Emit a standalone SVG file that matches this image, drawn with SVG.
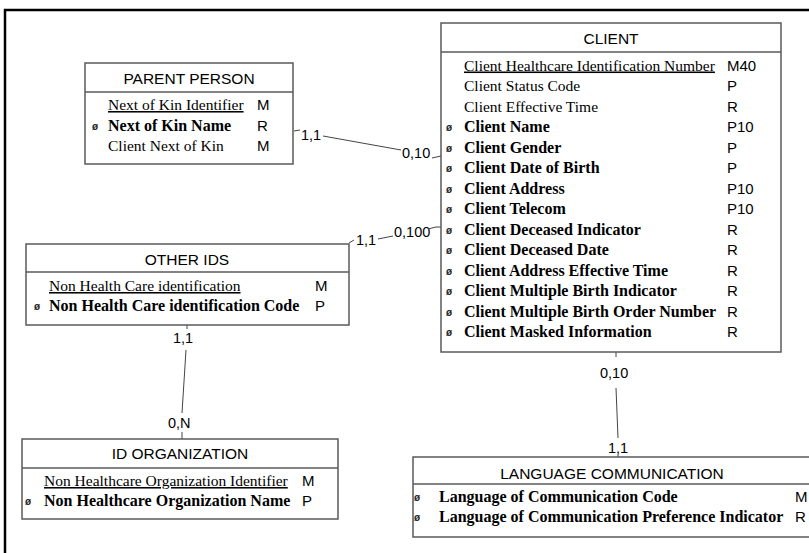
<svg xmlns="http://www.w3.org/2000/svg" width="809" height="553" viewBox="0 0 809 553">
<style>
.box{fill:#fff;stroke:#5a5a5a;stroke-width:1.5}
.sep{stroke:#5a5a5a;stroke-width:1.5}
.hd{font-family:"Liberation Sans",Arial,sans-serif;font-size:15.5px;fill:#000;text-anchor:middle}
.at{font-family:"Liberation Serif","Times New Roman",serif;font-size:15.5px;fill:#000}
.b{font-weight:bold;font-size:16px}
.k{text-decoration:underline}
.cd{font-family:"Liberation Sans",Arial,sans-serif;font-size:15px;fill:#000}
.o{font-family:"Liberation Sans",Arial,sans-serif;font-size:10px;font-weight:bold;fill:#222}
.card{font-family:"Liberation Sans",Arial,sans-serif;font-size:14.5px;fill:#000}
.ln{stroke:#444;stroke-width:1;fill:none}
</style>
<rect x="0" y="0" width="809" height="553" fill="#fff"/>
<path d="M5 553 V10 H809" fill="none" stroke="#000" stroke-width="2.5"/>

<g id="connectors">
  <path class="ln" d="M294 131 L300 130"/>
  <text class="card" x="301" y="140">1,1</text>
  <path class="ln" d="M323 136 L401 150"/>
  <text class="card" x="402" y="158">0,10</text>
  <path class="ln" d="M432 158 L441 156"/>

  <path class="ln" d="M349 243 L354 240"/>
  <text class="card" x="356" y="245">1,1</text>
  <path class="ln" d="M378 239 L393 236"/>
  <text class="card" x="394" y="237">0,100</text>
  <path class="ln" d="M428 229 L436 227 L441 227"/>

  <path class="ln" d="M187 325 L187 329"/>
  <text class="card" x="173" y="343">1,1</text>
  <path class="ln" d="M186 350 L182 413"/>
  <text class="card" x="168" y="428">0,N</text>
  <path class="ln" d="M182 432 L182 439"/>

  <path class="ln" d="M616 352 L616 357"/>
  <text class="card" x="600" y="378">0,10</text>
  <path class="ln" d="M616 388 L618 438"/>
  <text class="card" x="608" y="453">1,1</text>
  <path class="ln" d="M618 455 L618 457"/>
</g>

<g id="client">
  <rect class="box" x="441" y="23" width="340" height="329"/>
  <line class="sep" x1="441" y1="52" x2="781" y2="52"/>
  <text class="hd" x="611" y="43.5">CLIENT</text>
  <text class="at k" x="464" y="70.5">Client Healthcare Identification Number</text>
  <text class="cd" x="727" y="70.5">M40</text>
  <text class="at" x="464" y="91">Client Status Code</text>
  <text class="cd" x="727" y="91">P</text>
  <text class="at" x="464" y="111.5">Client Effective Time</text>
  <text class="cd" x="727" y="111.5">R</text>
  <text class="o" x="446" y="131">ø</text>
  <text class="at b" x="464" y="132">Client Name</text>
  <text class="cd" x="727" y="132">P10</text>
  <text class="o" x="446" y="152">ø</text>
  <text class="at b" x="464" y="152.5">Client Gender</text>
  <text class="cd" x="727" y="152.5">P</text>
  <text class="o" x="446" y="172">ø</text>
  <text class="at b" x="464" y="173">Client Date of Birth</text>
  <text class="cd" x="727" y="173">P</text>
  <text class="o" x="446" y="193">ø</text>
  <text class="at b" x="464" y="193.5">Client Address</text>
  <text class="cd" x="727" y="193.5">P10</text>
  <text class="o" x="446" y="213">ø</text>
  <text class="at b" x="464" y="214">Client Telecom</text>
  <text class="cd" x="727" y="214">P10</text>
  <text class="o" x="446" y="234">ø</text>
  <text class="at b" x="464" y="234.5">Client Deceased Indicator</text>
  <text class="cd" x="727" y="234.5">R</text>
  <text class="o" x="446" y="254">ø</text>
  <text class="at b" x="464" y="255">Client Deceased Date</text>
  <text class="cd" x="727" y="255">R</text>
  <text class="o" x="446" y="275">ø</text>
  <text class="at b" x="464" y="275.5">Client Address Effective Time</text>
  <text class="cd" x="727" y="275.5">R</text>
  <text class="o" x="446" y="295">ø</text>
  <text class="at b" x="464" y="296">Client Multiple Birth Indicator</text>
  <text class="cd" x="727" y="296">R</text>
  <text class="o" x="446" y="316">ø</text>
  <text class="at b" x="464" y="316.5">Client Multiple Birth Order Number</text>
  <text class="cd" x="727" y="316.5">R</text>
  <text class="o" x="446" y="336">ø</text>
  <text class="at b" x="464" y="337">Client Masked Information</text>
  <text class="cd" x="727" y="337">R</text>
</g>

<g id="parent-person">
  <rect class="box" x="85" y="63" width="208" height="101"/>
  <line class="sep" x1="85" y1="92" x2="293" y2="92"/>
  <text class="hd" x="189" y="83.5">PARENT PERSON</text>
  <text class="at k" x="108" y="110">Next of Kin Identifier</text>
  <text class="cd" x="257" y="110">M</text>
  <text class="o" x="92" y="130">ø</text>
  <text class="at b" x="108" y="130.5">Next of Kin Name</text>
  <text class="cd" x="257" y="130.5">R</text>
  <text class="at" x="108" y="151">Client Next of Kin</text>
  <text class="cd" x="257" y="151">M</text>
</g>

<g id="other-ids">
  <rect class="box" x="26" y="244" width="323" height="81"/>
  <line class="sep" x1="26" y1="272" x2="349" y2="272"/>
  <text class="hd" x="187" y="264.5">OTHER IDS</text>
  <text class="at k" x="49" y="291">Non Health Care identification</text>
  <text class="cd" x="315" y="291">M</text>
  <text class="o" x="34" y="310">ø</text>
  <text class="at b" x="49" y="311">Non Health Care identification Code</text>
  <text class="cd" x="315" y="311">P</text>
</g>

<g id="id-organization">
  <rect class="box" x="22" y="439" width="316" height="80"/>
  <line class="sep" x1="22" y1="468" x2="338" y2="468"/>
  <text class="hd" x="180" y="458.5">ID ORGANIZATION</text>
  <text class="at k" x="44" y="486">Non Healthcare Organization Identifier</text>
  <text class="cd" x="302" y="486">M</text>
  <text class="o" x="25" y="505">ø</text>
  <text class="at b" x="44" y="506">Non Healthcare Organization Name</text>
  <text class="cd" x="302" y="506">P</text>
</g>

<g id="language-communication">
  <rect class="box" x="413" y="457" width="400" height="80"/>
  <line class="sep" x1="413" y1="484" x2="813" y2="484"/>
  <text class="hd" x="612" y="478.5">LANGUAGE COMMUNICATION</text>
  <text class="o" x="414" y="501">ø</text>
  <text class="at b" x="439" y="502">Language of Communication Code</text>
  <text class="cd" x="795" y="502">M</text>
  <text class="o" x="414" y="521">ø</text>
  <text class="at b" x="439" y="522">Language of Communication Preference Indicator</text>
  <text class="cd" x="795" y="522">R</text>
</g>
</svg>
